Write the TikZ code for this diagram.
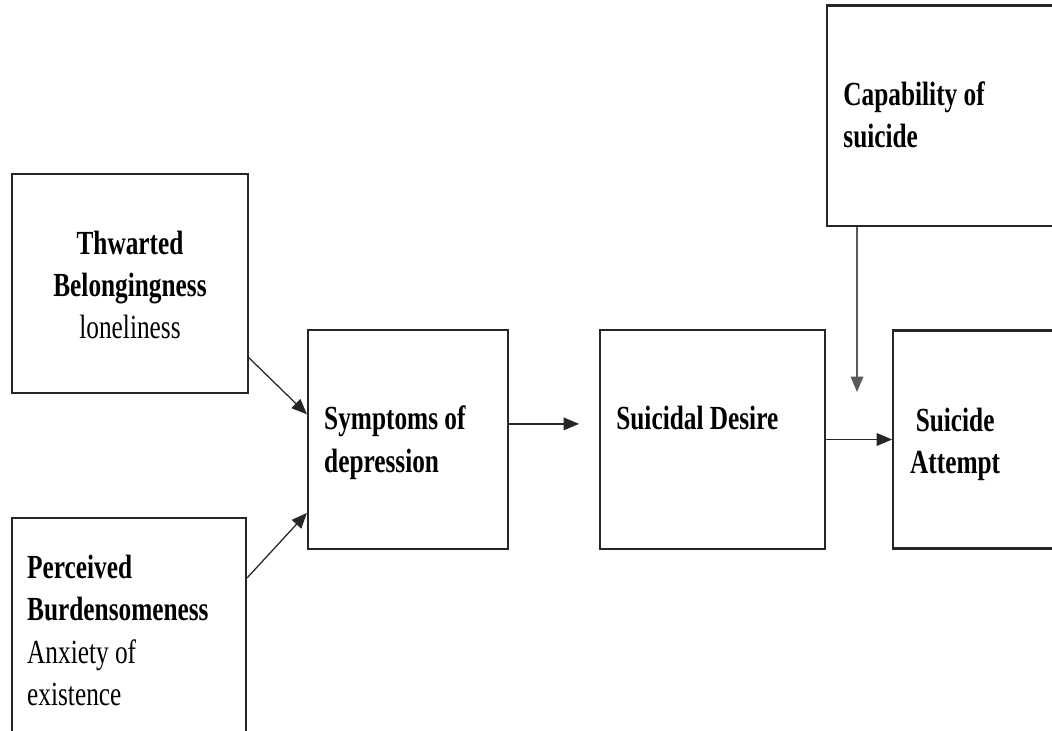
\documentclass[tikz,border=0pt]{standalone}
\usepackage{fontspec}
\setmainfont{Liberation Serif}[FakeStretch=0.75]
\usepackage{tikz}
\usetikzlibrary{arrows.meta,positioning,calc}

\tikzset{
  box/.style={draw=black!85,line width=1.5pt,rectangle,inner sep=0pt},
  txt/.style={inner sep=0pt,anchor=north west,align=left,
    font=\fontsize{24}{30}\selectfont},
  arr/.style={-{Triangle[length=11pt,width=9pt]},line width=.9pt,draw=black!85}
}

\begin{document}
\begin{tikzpicture}
      \useasboundingbox (0,0) rectangle (26.3,-18.275);
      \clip (0,0) rectangle (26.3,-18.275);
      % boxes
      \node[box,minimum width=5.9cm,minimum height=5.475cm](thwarted) at (3.25,-7.0875){};
      \node[box,minimum width=5.85cm,minimum height=6cm,below=3.075cm of thwarted.south west,anchor=north west](perceived){};
      \node[box,minimum width=5cm,minimum height=5.475cm](symptoms) at (10.2,-10.9875){};
      \node[box,minimum width=5.625cm,minimum height=5.475cm,right=2.25cm of symptoms](desire){};
      \node[box,minimum width=5cm,minimum height=5.45cm,right=1.65cm of desire](attempt){};
      \node[box,minimum width=6.6cm,minimum height=5.51cm,above=2.55cm of desire.north east,anchor=south west](capability){};
      % texts
      \node[txt,anchor=north,align=center](thwarted-t) at ([yshift=-1.45cm]thwarted.north)
        {\textbf{Thwarted}\\\textbf{Belongingness}\\loneliness};
      \node[txt](perceived-t) at ([shift={(.4cm,-.95cm)}]perceived.north west)
        {\textbf{Perceived}\\\textbf{Burdensomeness}\\Anxiety of\\existence};
      \node[txt](symptoms-t) at ([shift={(.425cm,-1.925cm)}]symptoms.north west)
        {\textbf{Symptoms of}\\\textbf{depression}};
      \node[txt](desire-t) at ([shift={(.425cm,-1.925cm)}]desire.north west)
        {\textbf{Suicidal Desire}};
      \node[txt](capability-t) at ([shift={(.425cm,-1.925cm)}]capability.north west)
        {\textbf{Capability of}\\\textbf{suicide}};
      \node[txt,anchor=north,align=center](attempt-t) at ([shift={(1.575cm,-1.95cm)}]attempt.north west)
        {\textbf{Suicide}\\\textbf{Attempt}};
      \coordinate (meet) at (21.425,-9.8);
      %
      \draw[arr] (thwarted.-32) -- (symptoms.166);
      \draw[arr] (perceived.27) -- (symptoms.216);
      \draw[arr,shorten >=.5cm] ([yshift=.39cm]symptoms.east) -- ([yshift=.39cm]desire.west);
      \draw[arr] (desire.east) -- (attempt.west);
      \draw[arr,draw=black!65] (meet |- capability.south) -- (meet);
    \end{tikzpicture}
\end{document}
